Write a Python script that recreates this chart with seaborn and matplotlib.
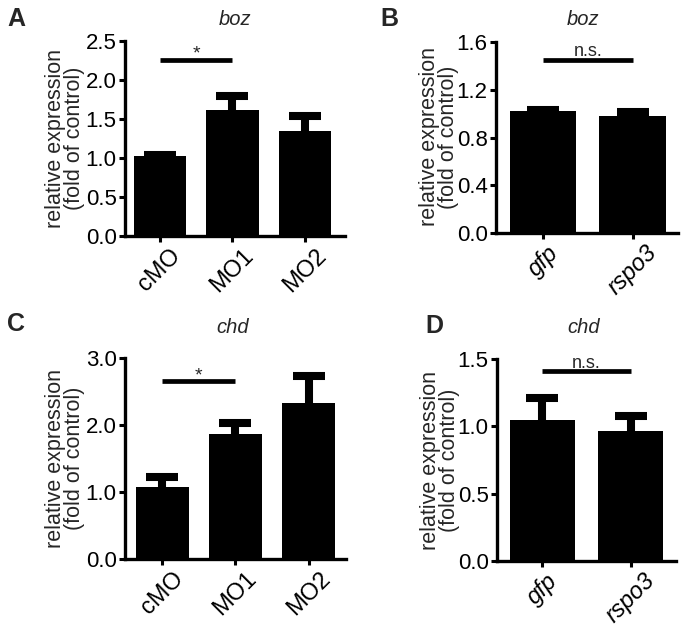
import numpy as np
import matplotlib
matplotlib.use("Agg")
import matplotlib.pyplot as plt
import seaborn as sns

sns.set_theme(style="ticks")
plt.rcParams['font.family'] = ['Liberation Sans', 'DejaVu Sans']

# ---------------- data ----------------
mo_groups = ["cMO", "MO1", "MO2"]
rs_groups = ["gfp", "rspo3"]

boz_mo_mean = [1.03, 1.61, 1.35]
boz_mo_sem = [0.005, 0.185, 0.19]
boz_rs_mean = [1.02, 0.98]
boz_rs_sem = [0.012, 0.035]

chd_mo_mean = [1.07, 1.87, 2.33]
chd_mo_sem = [0.15, 0.16, 0.40]
chd_rs_mean = [1.05, 0.965]
chd_rs_sem = [0.16, 0.115]

sig_A, sig_B, sig_C, sig_D = 2.26, 1.45, 2.65, 1.41

yt_A = [0.0, 0.5, 1.0, 1.5, 2.0, 2.5]
yt_B = [0.0, 0.4, 0.8, 1.2, 1.6]
yt_C = [0.0, 1.0, 2.0, 3.0]
yt_D = [0.0, 0.5, 1.0, 1.5]

# ---------------- figure ----------------
W, H = 686, 632
fig = plt.figure(figsize=(W / 100, H / 100), dpi=100)


def px_axes(l, r, t, b):
    return fig.add_axes([l / W, 1 - b / H, (r - l) / W, (b - t) / H])


def ftext(x, y, s, **kw):
    fig.text(x / W, 1 - y / H, s, **kw)


def panel(ax, cats, means, sems, width, xlim, yticks, sig_y, sig_txt, italic_x):
    sns.barplot(x=cats, y=means, color="black", saturation=1, width=width,
                errorbar=None, edgecolor="black", linewidth=0, ax=ax)
    xs = np.arange(len(cats))
    tops = np.array(means) + np.array(sems)
    ax.vlines(xs, means, tops, color="black", linewidth=5.8, zorder=3)
    ax.plot(xs, tops, ls="none", marker="_", ms=23, mew=5.8, color="black", zorder=3)
    ax.plot([0, 1], [sig_y, sig_y], color="black", lw=3.4, solid_capstyle="butt")
    if sig_txt == "*":
        ax.annotate("*", xy=(0.5, sig_y), xytext=(0, 1), textcoords="offset points",
                    ha="center", va="baseline", fontsize=14)
    else:
        ax.annotate(sig_txt, xy=(0.5, sig_y), xytext=(0, 2.5), textcoords="offset points",
                    ha="center", va="baseline", fontsize=13)
    ax.set_xlim(*xlim)
    ax.set_ylim(yticks[0], yticks[-1])
    ax.set_yticks(yticks)
    ax.set_yticklabels([f"{v:.1f}" for v in yticks], fontsize=16)
    ax.set_xticks(xs)
    ax.set_xticklabels(cats, rotation=45, ha="center", fontsize=17,
                       fontstyle="italic" if italic_x else "normal")
    ax.set_xlabel("")
    ax.set_ylabel("")
    sns.despine(ax=ax)
    for s in ["left", "bottom"]:
        ax.spines[s].set_linewidth(2.4)
        ax.spines[s].set_color("black")
    ax.tick_params(axis="both", length=4, width=2.2, color="black", pad=2,
                   labelcolor="black")
    ax.set_facecolor("none")


axA = px_axes(125, 345, 41, 236)
panel(axA, mo_groups, boz_mo_mean, boz_mo_sem, 0.72, (-0.48, 2.55), yt_A, sig_A, "*", False)
axB = px_axes(496, 678, 42, 233)
panel(axB, rs_groups, boz_rs_mean, boz_rs_sem, 0.74, (-0.53, 1.51), yt_B, sig_B, "n.s.", True)
axC = px_axes(125, 346, 358, 559)
panel(axC, mo_groups, chd_mo_mean, chd_mo_sem, 0.73, (-0.51, 2.51), yt_C, sig_C, "*", False)
axD = px_axes(497, 676, 359, 561)
panel(axD, rs_groups, chd_rs_mean, chd_rs_sem, 0.73, (-0.51, 1.51), yt_D, sig_D, "n.s.", True)

ylab = "relative expression\n(fold of control)"
for (x, y) in [(65, 138), (439, 137), (65, 458), (440, 460)]:
    ftext(x, y, ylab, rotation=90, ha="center", va="center", multialignment="center",
          fontsize=15.5, linespacing=0.85)

for (x, y, s) in [(235, 25, "boz"), (583, 25, "boz"), (233, 333, "chd"), (584, 333, "chd")]:
    ftext(x, y, s, ha="center", va="baseline", fontsize=14.5, fontstyle="italic")

for (x, y, s) in [(7, 26, "A"), (380, 26, "B"), (7, 331, "C"), (425, 333, "D")]:
    ftext(x, y, s, ha="left", va="baseline", fontsize=18, fontweight="bold")

fig.savefig("out.png", dpi=100)
